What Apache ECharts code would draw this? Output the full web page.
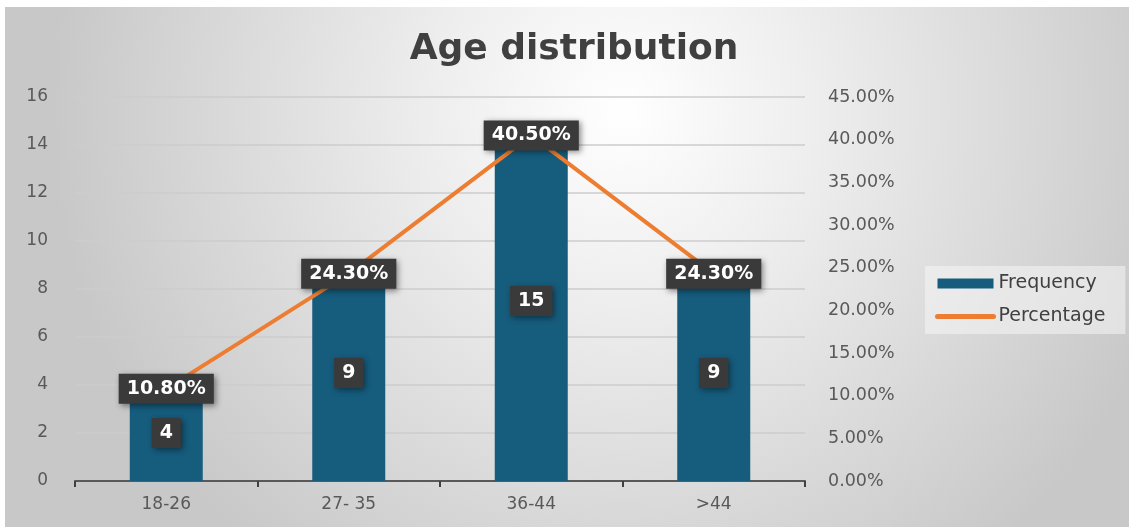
<!DOCTYPE html>
<html>
<head>
<meta charset="utf-8">
<script src="https://cdn.jsdelivr.net/npm/echarts@6/dist/echarts.min.js"></script>
<style>
html,body{margin:0;padding:0;background:#ffffff;width:1129px;height:527px;overflow:hidden;}
#chart{position:absolute;left:5px;top:7px;width:1124px;height:520px;}
</style>
</head>
<body>
<div id="chart"></div>
<script>
const categories = ['18-26', '27- 35', '36-44', '>44'];
const frequency = [4, 9, 15, 9];
const percentage = [10.8, 24.3, 40.5, 24.3];
const leftTicks = { min: 0, max: 16, interval: 2 };
const rightTicks = { min: 0, max: 45, interval: 5 };

const chart = echarts.init(document.getElementById('chart'));
const FONT = 'DejaVu Sans';
const labelBox = {
  color: '#ffffff',
  fontFamily: FONT,
  fontWeight: 'bold',
  fontSize: 19,
  backgroundColor: '#3a3a3a',
  shadowColor: 'rgba(0,0,0,0.45)',
  shadowBlur: 6,
  shadowOffsetX: 2,
  shadowOffsetY: 2
};
chart.setOption({
  backgroundColor: {
    type: 'radial', x: 0.55, y: 0.2, r: 1.1,
    colorStops: [
      { offset: 0, color: '#ffffff' },
      { offset: 0.35, color: '#ededed' },
      { offset: 1, color: '#c8c8c8' }
    ]
  },
  title: {
    text: 'Age distribution',
    left: 564,
    top: 20,
    textAlign: 'center',
    textStyle: { fontFamily: FONT, fontWeight: 'bold', fontSize: 36, color: '#404040' }
  },
  legend: {
    orient: 'vertical',
    left: 920,
    top: 259,
    padding: [8, 20, 8, 10],
    itemGap: 14,
    itemWidth: 56,
    itemHeight: 10,
    backgroundColor: 'rgba(245,245,245,0.55)',
    textStyle: { fontFamily: FONT, fontSize: 19, color: '#404040', padding: [0, 0, 0, 0] },
    data: [
      { name: 'Frequency', icon: 'rect' },
      { name: 'Percentage', itemStyle: { opacity: 0 }, lineStyle: { width: 5, cap: 'round' } }
    ]
  },
  grid: { left: 70, right: 324, top: 90, bottom: 46 },
  xAxis: {
    type: 'category',
    data: categories,
    axisLine: { lineStyle: { color: '#595959', width: 2 } },
    axisTick: { show: true, length: 6, lineStyle: { color: '#404040', width: 2 } },
    axisLabel: { fontFamily: FONT, fontSize: 17, color: '#595959', margin: 15 }
  },
  yAxis: [
    {
      type: 'value', min: leftTicks.min, max: leftTicks.max, interval: leftTicks.interval,
      axisLine: { show: false }, axisTick: { show: false },
      axisLabel: { fontFamily: FONT, fontSize: 17, color: '#595959', margin: 27 },
      splitLine: { lineStyle: { color: '#cccccc', width: 1.5 } }
    },
    {
      type: 'value', min: rightTicks.min, max: rightTicks.max, interval: rightTicks.interval,
      axisLine: { show: false }, axisTick: { show: false },
      axisLabel: { fontFamily: FONT, fontSize: 17.5, color: '#595959', margin: 23,
        formatter: v => v.toFixed(2) + '%' },
      splitLine: { show: false }
    }
  ],
  series: [
    {
      name: 'Frequency',
      type: 'bar',
      data: frequency,
      barWidth: '40%',
      itemStyle: { color: '#165c7d' },
      label: Object.assign({ show: true, position: 'inside', padding: [6, 8, 5, 8] }, labelBox),
      z: 2
    },
    {
      name: 'Percentage',
      type: 'line',
      yAxisIndex: 1,
      data: percentage,
      symbol: 'circle',
      symbolSize: 1,
      lineStyle: { color: '#ed7d31', width: 4 },
      itemStyle: { color: '#ed7d31' },
      label: Object.assign({ show: true, position: 'inside', padding: [6, 8, 5, 8],
        formatter: p => p.value.toFixed(2) + '%' }, labelBox),
      z: 3
    }
  ]
});
</script>
</body>
</html>
